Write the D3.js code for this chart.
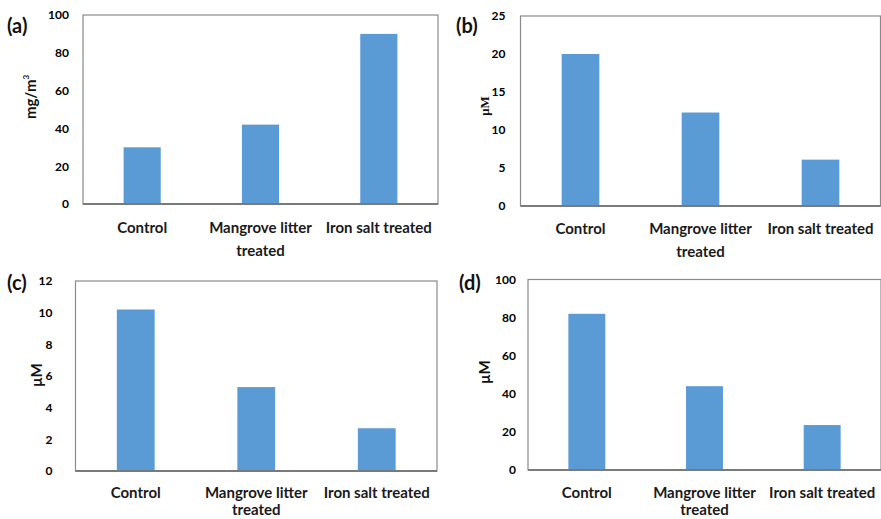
<!DOCTYPE html>
<html>
<head>
<meta charset="utf-8">
<script src="https://cdn.jsdelivr.net/npm/d3@7"></script>
<style>
  body { margin: 0; background: #fff; }
  svg { display: block; font-family: Lato, "Open Sans", sans-serif; font-weight: bold; }
</style>
</head>
<body>
<svg id="chart" width="881" height="519"></svg>
<script>
const categories = ["Control", "Mangrove litter treated", "Iron salt treated"];
const valuesA = [30, 42, 90];
const valuesB = [20, 12.3, 6.1];
const valuesC = [10.2, 5.3, 2.7];
const valuesD = [82, 44, 23.6];
const ticksA = [0, 20, 40, 60, 80, 100];
const ticksB = [0, 5, 10, 15, 20, 25];
const ticksC = [0, 2, 4, 6, 8, 10, 12];
const ticksD = [0, 20, 40, 60, 80, 100];
const panelLabels = ["(a)", "(b)", "(c)", "(d)"];
const yTitles = ["mg/m", "\u03bcM", "\u03bcM", "\u03bcM"];

const barColor = "#5b9bd5";
const svg = d3.select("#chart");

const panels = [
  { vals: valuesA, ticks: ticksA, x0: 83, y0: 15, x1: 438, y1: 204, gap: 14, tx: 31, ty: 97, lx: 7, ly: 33, base: 29, lead: 23, sup: true },
  { vals: valuesB, ticks: ticksB, x0: 520.5, y0: 16, x1: 880.5, y1: 206, gap: 15, tx: 484, ty: 106, lx: 456, ly: 33, base: 28, lead: 23, serif: true },
  { vals: valuesC, ticks: ticksC, x0: 75.5, y0: 281, x1: 437, y1: 471, gap: 23, tx: 37, ty: 375, lx: 7, ly: 290, base: 27, lead: 17 },
  { vals: valuesD, ticks: ticksD, x0: 528, y0: 279.5, x1: 881, y1: 470, gap: 12, tx: 485, ty: 372, lx: 459, ly: 290, base: 28, lead: 17 }
];

panels.forEach(function(p, i) {
  var g = svg.append("g");

  var x = d3.scaleBand()
    .domain(categories)
    .range([p.x0, p.x1])
    .paddingInner(0.686)
    .paddingOuter(0.343);

  var y = d3.scaleLinear()
    .domain([0, d3.max(p.ticks)])
    .range([p.y1, p.y0]);

  //frame
  g.append("rect")
    .attr("x", p.x0)
    .attr("y", p.y0)
    .attr("width", p.x1 - p.x0)
    .attr("height", p.y1 - p.y0)
    .attr("fill", "none")
    .attr("stroke", "#8a8a8a")
    .attr("stroke-width", 1.2);

  //bars
  g.selectAll(".bar")
    .data(p.vals)
    .enter()
    .append("rect")
    .attr("class", "bar")
    .attr("x", (d, j) => x(categories[j]))
    .attr("y", d => y(d))
    .attr("width", x.bandwidth())
    .attr("height", d => y(0) - y(d))
    .attr("fill", barColor);

  //bottom axis line
  g.append("line")
    .attr("x1", p.x0)
    .attr("x2", p.x1)
    .attr("y1", y(0))
    .attr("y2", y(0))
    .attr("stroke", "#7a7a7a")
    .attr("stroke-width", 2);

  //y ticks
  var yAxis = g.append("g")
    .attr("transform", "translate(" + p.x0 + ",0)")
    .call(d3.axisLeft(y).tickValues(p.ticks).tickSize(0).tickPadding(p.gap));
  yAxis.select(".domain").remove();
  yAxis.selectAll("text")
    .attr("font-family", "Lato, sans-serif")
    .attr("font-weight", "bold")
    .attr("font-size", 12)
    .attr("fill", "#000");

  //category labels, wrapped to the band step
  var step = x.step();
  categories.forEach(function(c) {
    var cx = x(c) + x.bandwidth() / 2;
    var t = g.append("text")
      .attr("text-anchor", "middle")
      .attr("font-size", 15)
      .attr("fill", "#1a1a1a")
      .attr("x", cx)
      .attr("y", p.y1 + p.base);
    var words = c.split(" ");
    var line = [];
    var tspan = t.append("tspan").attr("x", cx);
    words.forEach(function(w) {
      line.push(w);
      tspan.text(line.join(" "));
      if (tspan.node().getComputedTextLength() > step + 4 && line.length > 1) {
        line.pop();
        tspan.text(line.join(" "));
        line = [w];
        tspan = t.append("tspan")
          .attr("x", cx)
          .attr("dy", p.lead)
          .text(w);
      }
    });
  });

  //y title
  var title = g.append("text")
    .attr("transform", "translate(" + p.tx + "," + p.ty + ") rotate(-90)")
    .attr("text-anchor", "middle")
    .attr("dy", "0.35em")
    .attr("fill", "#111")
    .attr("font-size", p.serif ? 13 : 15)
    .attr("font-family", p.serif ? "'Liberation Serif', serif" : "Lato, sans-serif")
    .text(yTitles[i]);
  if (p.sup) {
    title.append("tspan")
      .attr("font-size", 8)
      .attr("dy", "-0.9em")
      .text("3");
  }

  //panel label
  g.append("text")
    .attr("x", p.lx)
    .attr("y", p.ly)
    .attr("font-size", 20)
    .attr("fill", "#111")
    .text(panelLabels[i]);
});
</script>
</body>
</html>
